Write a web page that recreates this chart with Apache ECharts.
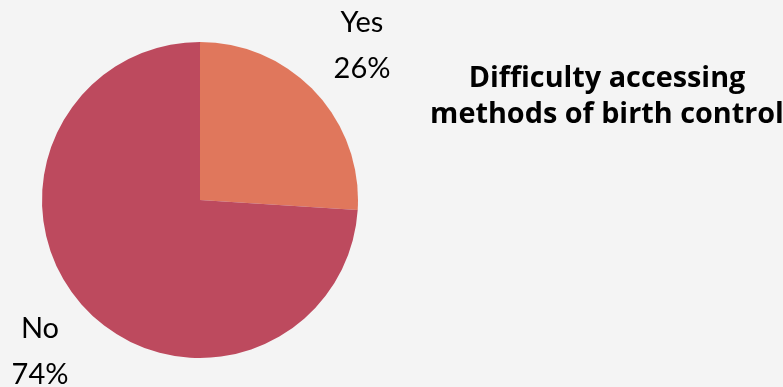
<!DOCTYPE html>
<html lang="en">
<head>
    <meta charset="UTF-8">
    <title>Difficulty accessing methods of birth control</title>
    <script src="https://cdn.jsdelivr.net/npm/echarts@6/dist/echarts.min.js"></script>
    <style>
        html, body { margin: 0; padding: 0; background: #f4f4f4; }
    </style>
</head>
<body>
    <div id="main" style="width: 783px;height:387px;"></div>
    <script type="text/javascript">
        // data
        var categories = ['Yes', 'No'];
        var shares = [26, 74];
        var colors = ['#e0775c', '#bd4a5e'];

        // where each label sits
        var labelSpots = [
            { x: 362, y: 46 },
            { x: 40, y: 352 }
        ];

        var myChart = echarts.init(document.getElementById('main'));

        var option = {
            backgroundColor: '#f4f4f4',
            title: {
                text: 'Difficulty accessing\nmethods of birth control',
                left: 602,
                top: 56,
                textAlign: 'center',
                textStyle: {
                    fontFamily: 'Open Sans',
                    fontWeight: 'bold',
                    fontSize: 28.8,
                    lineHeight: 36,
                    color: '#000'
                }
            },
            series: [{
                type: 'pie',
                center: [200, 200],
                radius: 158,
                startAngle: 90,
                clockwise: true,
                silent: true,
                label: {
                    show: true,
                    formatter: '{b}\n{d}%',
                    fontFamily: 'Lato',
                    fontSize: 29,
                    lineHeight: 46,
                    color: '#000',
                    align: 'center',
                    overflow: 'none',
                    width: 120
                },
                labelLine: { show: false },
                labelLayout: function (params) {
                    var s = labelSpots[params.dataIndex];
                    return { x: s.x, y: s.y, align: 'center', verticalAlign: 'middle' };
                },
                data: categories.map(function (c, i) {
                    return { name: c, value: shares[i], itemStyle: { color: colors[i] } };
                })
            }]
        };

        myChart.setOption(option);
    </script>
</body>
</html>
